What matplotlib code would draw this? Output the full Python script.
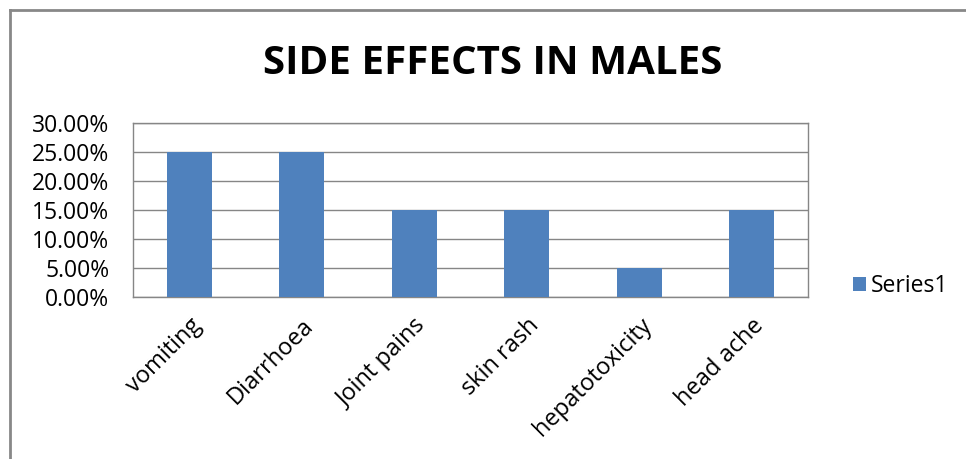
import matplotlib.pyplot as plt
from matplotlib.lines import Line2D
from matplotlib.ticker import FuncFormatter

plt.rcParams['font.family'] = ['Open Sans', 'DejaVu Sans']

categories = ["vomiting", "Diarrhoea", "Joint pains", "skin rash", "hepatotoxicity", "head ache"]
values = [0.25, 0.25, 0.15, 0.15, 0.05, 0.15]
y_ticks = [0.0, 0.05, 0.10, 0.15, 0.20, 0.25, 0.30]

bar_color = "#4F81BD"
grid_color = "#868686"

fig = plt.figure(figsize=(9.66, 4.59), dpi=100)
ax = fig.add_axes([0.1377, 0.3529, 0.6988, 0.379])

ax.bar(range(len(categories)), values, width=0.4, color=bar_color, zorder=3, label="Series1")

ax.set_xlim(-0.5, len(categories) - 0.5)
ax.set_ylim(0, 0.30)
ax.set_yticks(y_ticks)
ax.yaxis.set_major_formatter(FuncFormatter(lambda v, p: f"{v * 100:.2f}%"))
ax.grid(axis='y', color=grid_color, linewidth=1, zorder=0)
ax.tick_params(axis='y', length=0, labelsize=16.5, pad=17)
ax.tick_params(axis='x', length=0, labelsize=17, pad=12)

ax.set_xticks(range(len(categories)))
ax.set_xticklabels(categories, rotation=45, ha='right', rotation_mode='anchor')

for side in ['top', 'right', 'left', 'bottom']:
    ax.spines[side].set_color(grid_color)
    ax.spines[side].set_linewidth(1)

fig.text(0.51, 0.862, "SIDE EFFECTS IN MALES", ha='center', va='center',
         fontsize=29, fontweight='bold')

ax.legend(loc='center left', bbox_to_anchor=(1.067, 0.063), frameon=False,
          fontsize=16.5, handlelength=0.55, handleheight=0.55, handletextpad=0.2,
          borderpad=0, borderaxespad=0)

# outer frame (only top and left visible in the crop)
fig.add_artist(Line2D([0.0104, 1.0], [0.978, 0.978], color="#888888", linewidth=2, transform=fig.transFigure))
fig.add_artist(Line2D([0.0104, 0.0104], [0.0, 0.978], color="#888888", linewidth=2, transform=fig.transFigure))

fig.savefig("out.png", dpi=100)
